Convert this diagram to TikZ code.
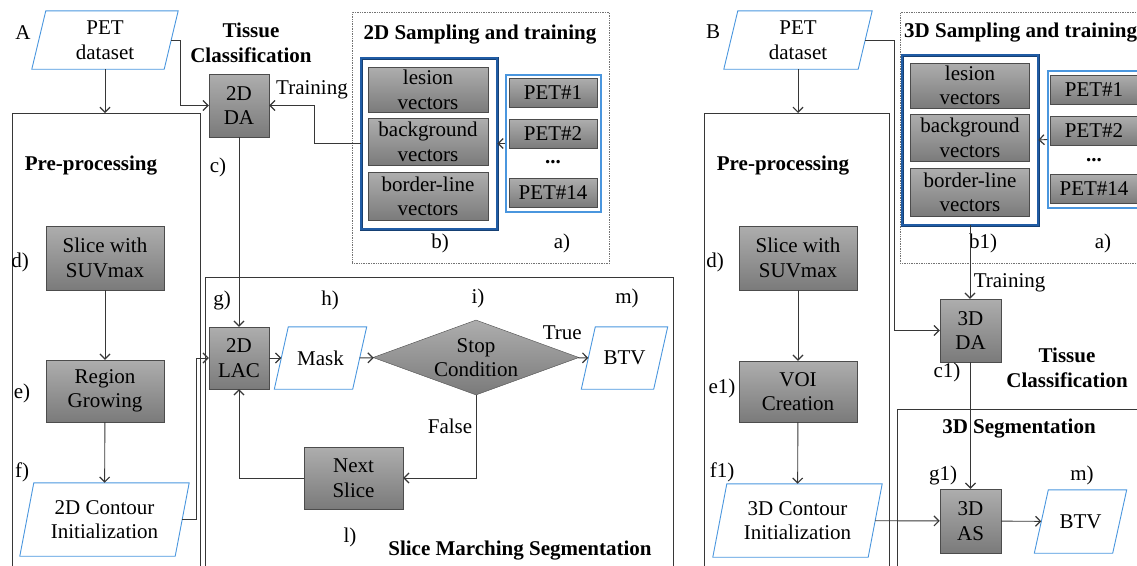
\documentclass[tikz,border=0pt]{standalone}
\usepackage{fontspec}
\setmainfont{Liberation Serif}
\usetikzlibrary{shapes.geometric}
\usetikzlibrary{arrows.meta}

\definecolor{iobl}{RGB}{74,150,222}
\definecolor{vecbl}{RGB}{32,92,165}
\definecolor{lnk}{RGB}{55,55,55}

\begin{document}
\begin{tikzpicture}[x=1pt, y=-1pt,
	every node/.style={font=\fontsize{21}{24.5}\selectfont},
	procbox/.style={rectangle, draw=black!70, top color=black!32, bottom color=black!52, inner sep=0, align=center},
	ioslant/.store in=\ioslant, ioslant=7,
	iobox/.style={rectangle, inner sep=0, align=center, append after command={\pgfextra{
		\draw[iobl, line width=0.9pt] ([xshift=\ioslant]\tikzlastnode.north west) -- ([xshift=\ioslant]\tikzlastnode.north east)
		-- ([xshift=-\ioslant]\tikzlastnode.south east) -- ([xshift=-\ioslant]\tikzlastnode.south west) -- cycle;}}},
	frame/.style={rectangle, draw=lnk, line width=0.8pt, inner sep=0, anchor=north west},
	dotbox/.style={rectangle, draw=black!55, densely dotted, line width=0.7pt, inner sep=0, anchor=north west},
	vecgroup/.style={rectangle, draw=vecbl!70!black, double=vecbl, double distance=1.6pt, line width=0.7pt, inner sep=0},
	petgroup/.style={rectangle, draw=iobl, line width=1.1pt, inner sep=0},
	arr/.style={draw=lnk, line width=0.9pt, -{Straight Barb[length=5pt, width=10pt, line width=1.2pt]}}
	]
	
	\useasboundingbox (0,0) rectangle (1137,565);
	\clip (0,0) rectangle (1137,565);
	
	% ---------- part A ----------
	\node (preA) [frame, minimum width=188, minimum height=470] at (12,113) {};
	\node (smA) [frame, minimum width=468, minimum height=300] at (205,277) {};
	\node (saA) [dotbox, minimum width=257, minimum height=251] at (352,12) {};
	
	\node (petA) at (105,40) [iobox, minimum width=132, minimum height=58] {PET\\dataset};
	\node (daA) at (239,105.5) [procbox, minimum width=60, minimum height=63] {2D\\DA};
	\node (suvA) at (105,258) [procbox, minimum width=118, minimum height=64] {Slice with\\SUVmax};
	\node (regA) at (105,391) [procbox, minimum width=118, minimum height=62] {Region\\Growing};
	\node (contA) at (104.5,519.5) [iobox, ioslant=9, minimum width=155, minimum height=73] {2D Contour\\Initialization};
	\node (lacA) at (239,358) [procbox, minimum width=60, minimum height=62] {2D\\LAC};
	\node (maskA) at (320.5,358) [iobox, ioslant=8, minimum width=78, minimum height=62] {Mask};
	\node (stopA) at (476,357.5) [shape=diamond, aspect=2.75, draw=black!70, top color=black!32, bottom color=black!52,
		inner sep=0, minimum width=206, minimum height=75, align=center] {Stop\\Condition};
	\node (btvA) at (624.5,358) [iobox, ioslant=7.5, minimum width=72, minimum height=62] {BTV};
	\node (nextA) at (353.5,478) [procbox, minimum width=99, minimum height=62] {Next\\Slice};
	
	\node (vecA) at (429,143.5) [vecgroup, minimum width=136, minimum height=171] {};
	\node (lesA) at (428,90) [procbox, minimum width=120, minimum height=45] {lesion\\vectors};
	\node (bgA) at (428,142) [procbox, minimum width=120, minimum height=47] {background\\vectors};
	\node (blA) at (428,196.5) [procbox, minimum width=120, minimum height=48] {border-line\\vectors};
	\node (petgA) at (553.5,143.5) [petgroup, minimum width=95, minimum height=137] {};
	\node (pet1A) at (553,92.5) [procbox, minimum width=88, minimum height=29] {PET\#1};
	\node (pet2A) at (553,134) [procbox, minimum width=88, minimum height=29] {PET\#2};
	\node (dotsA) at (553,162) [inner sep=0] {\textbf{...}};
	\node (pet14A) at (553,192.5) [procbox, minimum width=88, minimum height=29] {PET\#14};
	
	\node (tagA) at (23,33) {A};
	\node (tcA) at (251,43) [align=center] {\textbf{Tissue}\\\textbf{Classification}};
	\node (trA) at (312,90) {Training};
	\node (ppA) at (91,166) {\textbf{Pre-processing}};
	\node (stA) at (480,35) {\textbf{2D Sampling and training}};
	\node (smtA) at (520,551) {\textbf{Slice Marching Segmentation}};
	\node (la) at (562,243) {a)};
	\node (lb) at (440,243) {b)};
	\node (lc) at (218,167) {c)};
	\node (ld) at (20,262) {d)};
	\node (le) at (22,393) {e)};
	\node (lf) at (22,472) {f)};
	\node (lg) at (222,300) {g)};
	\node (lh) at (330,300) {h)};
	\node (li) at (478,298) {i)};
	\node (lm) at (627,298) {m)};
	\node (ll) at (350,537) {l)};
	
	\draw[arr] (petA.east) -- ++(9,0) |- (daA.west);
	\draw[arr] (petA.south) -- (petA.south |- preA.north);
	\draw[arr] (vecA.west) -- ++(-46,0) |- (daA.east);
	\draw[arr] (petgA.west) -- (vecA.east);
	\draw[arr] (daA.south) -- (lacA.north);
	\draw[arr] (suvA) -- (regA);
	\draw[arr] (regA) -- (contA);
	\draw[arr] (contA.east) -- ++(14,0) |- (lacA.west);
	\draw[arr] (lacA) -- (maskA);
	\draw[arr] (maskA) -- (stopA);
	\draw[arr] (stopA) -- (btvA) node[at start, above=14pt, xshift=-16pt] {True};
	\draw[arr] (stopA.south) |- (nextA.east) node[pos=0.19, left=0pt] {False};
	\draw[arr] (nextA.west) -| (lacA.south);
	
	% ---------- part B ----------
	\node (preB) [frame, minimum width=185, minimum height=470] at (704,113) {};
	\node (sgB) [frame, minimum width=260, minimum height=200] at (897,409) {};
	\node (saB) [dotbox, minimum width=260, minimum height=251] at (900,12) {};
	
	\node (petB) at (798,40) [iobox, minimum width=134, minimum height=58] {PET\\dataset};
	\node (daB) at (970.5,330.5) [procbox, minimum width=61, minimum height=63] {3D\\DA};
	\node (suvB) at (798,258) [procbox, minimum width=118, minimum height=64] {Slice with\\SUVmax};
	\node (voiB) at (798,391.5) [procbox, minimum width=118, minimum height=61] {VOI\\Creation};
	\node (contB) at (797.5,520.5) [iobox, ioslant=9, minimum width=155, minimum height=73] {3D Contour\\Initialization};
	\node (asB) at (970.5,521) [procbox, minimum width=61, minimum height=64] {3D\\AS};
	\node (btvB) at (1080.5,521.5) [iobox, ioslant=7.5, minimum width=78, minimum height=63] {BTV};
	
	\node (vecB) at (970,140) [vecgroup, minimum width=136, minimum height=170] {};
	\node (lesB) at (970,85.5) [procbox, minimum width=119, minimum height=45] {lesion\\vectors};
	\node (bgB) at (970,138) [procbox, minimum width=119, minimum height=47] {background\\vectors};
	\node (blB) at (970,192.5) [procbox, minimum width=119, minimum height=48] {border-line\\vectors};
	\node (petgB) at (1095.5,139.5) [petgroup, minimum width=95, minimum height=137] {};
	\node (pet1B) at (1094,89.5) [procbox, minimum width=88, minimum height=29] {PET\#1};
	\node (pet2B) at (1094,131) [procbox, minimum width=88, minimum height=29] {PET\#2};
	\node (dotsB) at (1094,160) [inner sep=0] {\textbf{...}};
	\node (pet14B) at (1094,189) [procbox, minimum width=88, minimum height=29] {PET\#14};
	
	\node (tagB) at (713,32) {B};
	\node (ppB) at (783,166) {\textbf{Pre-processing}};
	\node (stB) at (904,33) [anchor=west, inner sep=0] {\textbf{3D Sampling and training}};
	\node (tcB) at (1067,368) [align=center] {\textbf{Tissue}\\\textbf{Classification}};
	\node (sgtB) at (1019,429) {\textbf{3D Segmentation}};
	\node (la1) at (1103,243) {a)};
	\node (lb1) at (983,243) {b1)};
	\node (lc1) at (947,372) {c1)};
	\node (ld1) at (715,262) {d)};
	\node (le1) at (722,388) {e1)};
	\node (lf1) at (722,472) {f1)};
	\node (lg1) at (943,475) {g1)};
	\node (lm1) at (1082,475) {m)};
	
	\draw[arr] (petB.east) -- ++(29,0) |- (daB.west);
	\draw[arr] (petB.south) -- (petB.south |- preB.north);
	\draw[arr] (petgB.west) -- (vecB.east);
	\draw[arr] (vecB.south) -- (vecB.south |- daB.north) node[pos=0.78, right=0pt] {Training};
	\draw[arr] (daB.south) -- (asB.north);
	\draw[arr] (suvB) -- (voiB);
	\draw[arr] (voiB) -- (contB);
	\draw[arr] (contB) -- (asB);
	\draw[arr] (asB) -- (btvB);
\end{tikzpicture}
\end{document}
